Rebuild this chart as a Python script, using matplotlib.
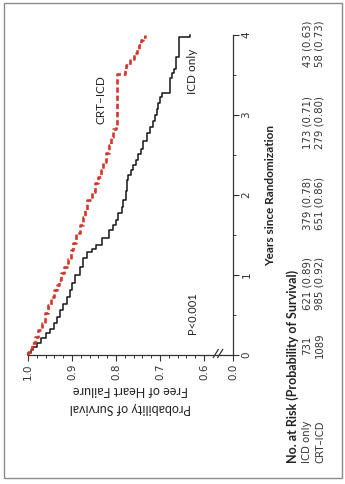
import numpy as np
import matplotlib
matplotlib.use("Agg")
import matplotlib.pyplot as plt
import matplotlib.transforms as mtrans
from matplotlib import font_manager

# Kaplan-Meier estimates (years, probability free of HF)
icd_t = [0.00, 0.03, 0.06, 0.10, 0.15, 0.21, 0.27, 0.33, 0.40, 0.47, 0.56, 0.64,
         0.73, 0.81, 0.90, 1.00, 1.10, 1.21, 1.29, 1.33, 1.375, 1.46, 1.56, 1.63,
         1.69, 1.77, 1.85, 1.94, 2.05, 2.12, 2.19, 2.25, 2.31, 2.38, 2.44, 2.51,
         2.58, 2.67, 2.77, 2.85, 2.92, 3.00, 3.08, 3.15, 3.23, 3.27, 3.46, 3.52,
         3.58, 3.73, 3.98]
icd_s = [1.000, 0.994, 0.988, 0.980, 0.970, 0.960, 0.950, 0.942, 0.935, 0.927,
         0.920, 0.912, 0.905, 0.900, 0.893, 0.882, 0.874, 0.867, 0.855, 0.845,
         0.832, 0.817, 0.806, 0.800, 0.795, 0.787, 0.783, 0.777, 0.775, 0.774,
         0.772, 0.766, 0.761, 0.755, 0.749, 0.744, 0.738, 0.730, 0.723, 0.716,
         0.711, 0.707, 0.704, 0.700, 0.696, 0.677, 0.673, 0.668, 0.664, 0.656,
         0.632]
crt_t = [0.00, 0.04, 0.08, 0.15, 0.23, 0.31, 0.40, 0.52, 0.62, 0.73, 0.81, 0.88,
         0.94, 1.02, 1.10, 1.20, 1.31, 1.40, 1.52, 1.62, 1.73, 1.81, 1.94, 2.04,
         2.15, 2.23, 2.31, 2.41, 2.52, 2.62, 2.73, 2.82, 2.88, 3.51, 3.56, 3.63,
         3.70, 3.77, 3.83, 3.88, 3.94, 3.98]
crt_s = [1.000, 0.995, 0.990, 0.984, 0.977, 0.969, 0.962, 0.954, 0.948, 0.942,
         0.935, 0.930, 0.925, 0.918, 0.908, 0.903, 0.897, 0.890, 0.882, 0.876,
         0.870, 0.866, 0.855, 0.848, 0.840, 0.835, 0.829, 0.823, 0.817, 0.811,
         0.806, 0.801, 0.798, 0.780, 0.777, 0.768, 0.760, 0.753, 0.748, 0.742,
         0.738, 0.734]
t_end = 4.0

years = [0, 1, 2, 3, 4]
icd_risk = ["731", "621 (0.89)", "379 (0.78)", "173 (0.71)", "43 (0.63)"]
crt_risk = ["1089", "985 (0.92)", "651 (0.86)", "279 (0.80)", "58 (0.73)"]
risk_shift = [0.12, -0.11, -0.10, -0.09, -0.11]

prob_ticks = [1.0, 0.9, 0.8, 0.7, 0.6]
prob_labels = ["1.0", "0.9", "0.8", "0.7", "0.6"]
ZERO_POS = 0.534   # where the "0.0" tick sits after the axis break

names = {f.name for f in font_manager.fontManager.ttflist}
NARROW = "Liberation Sans Narrow" if "Liberation Sans Narrow" in names else "DejaVu Sans"
LABEL = "Lato" if "Lato" in names else "DejaVu Sans"

W, H = 345, 484


def km_path(t, s, end):
    tt = np.append(t, end)
    return np.repeat(s, 2), np.repeat(tt, 2)[1:-1]


def px(x, y):
    return x / W, 1 - y / H


fig = plt.figure(figsize=(W / 100, H / 100), dpi=100)
ax = fig.add_axes([28 / W, 1 - 355 / H, 205 / W, 320 / H])

x, y = km_path(icd_t, icd_s, t_end)
ax.plot(x, y, color="#151515", lw=1.1, clip_on=False, zorder=3)
x, y = km_path(crt_t, crt_s, t_end)
ax.plot(x, y, color="#d8352a", lw=1.9, ls=(0, (2.0, 1.1)), clip_on=False, zorder=4)

ax.set_xlim(1.0, ZERO_POS)
ax.set_ylim(0, 4)
for side in ("top", "left"):
    ax.spines[side].set_visible(False)
for side in ("bottom", "right"):
    ax.spines[side].set_linewidth(0.9)
    ax.spines[side].set_color("#333333")

ax.set_xticks(prob_ticks + [ZERO_POS])
ax.set_xticklabels(prob_labels + ["0.0"], rotation=90, family=NARROW, fontsize=7.5,
                   color="#333333")
ax.set_xticks(np.arange(0.62, 1.0, 0.02), minor=True)
ax.yaxis.tick_right()
ax.set_yticks(years)
ax.set_yticklabels([str(v) for v in years], rotation=90, family=NARROW, fontsize=7.5,
                   color="#333333", va="center")
ax.set_yticks(np.arange(0.5, 4, 1.0), minor=True)
ax.tick_params(which="major", direction="out", length=4, width=0.8, color="#333333", pad=2)
ax.tick_params(which="minor", direction="out", length=2.5, width=0.7, color="#333333")

# axis break marks
for dx in (-2.2, 2.2):
    x0, y0 = px(218 + dx - 2.5, 357.5)
    x1, y1 = px(218 + dx + 2.5, 349.5)
    fig.add_artist(plt.Line2D([x0, x1], [y0, y1], color="#333333", lw=0.9))

ax.text(0.834, 3.19, "CRT\u2013ICD", rotation=90, ha="center", va="center",
        family=LABEL, fontsize=8.5, color="#222222")
ax.text(0.627, 3.54, "ICD only", rotation=90, ha="center", va="center",
        family=LABEL, fontsize=8.5, color="#222222")
ax.text(0.627, 0.525, "P<0.001", rotation=90, ha="center", va="center",
        family=LABEL, fontsize=8, color="#222222")

fig.text(*px(130.5, 399), "Probability of Survival\nFree of Heart Failure", rotation=180,
         ha="center", va="center", family=LABEL, fontsize=9, linespacing=1.7,
         color="#222222")

tr = mtrans.blended_transform_factory(fig.transFigure, ax.transData)
ax.text(271 / W, 2.0, "Years since Randomization", transform=tr, rotation=90,
        ha="center", va="center", family=LABEL, fontsize=8.5, weight="bold",
        color="#222222")

# number at risk table
y_start = (355 - 463) / 80
ax.text(293 / W, y_start, "No. at Risk (Probability of Survival)", transform=tr,
        rotation=90, ha="center", va="bottom", family=LABEL, fontsize=9,
        weight="bold", color="#222222")
ax.text(307 / W, y_start, "ICD only", transform=tr, rotation=90, ha="center",
        va="bottom", family=NARROW, fontsize=7.3, color="#333333")
ax.text(320 / W, y_start, "CRT\u2013ICD", transform=tr, rotation=90, ha="center",
        va="bottom", family=NARROW, fontsize=7.3, color="#333333")
for yr, sh, a, b in zip(years, risk_shift, icd_risk, crt_risk):
    ax.text(307 / W, yr + sh, a, transform=tr, rotation=90, ha="center", va="center",
            family=NARROW, fontsize=7.3, color="#333333")
    ax.text(320 / W, yr + sh, b, transform=tr, rotation=90, ha="center", va="center",
            family=NARROW, fontsize=7.3, color="#333333")

# outer frame
fig.add_artist(plt.Rectangle(px(4, 478), 338 / W, 475 / H, fill=False,
                             edgecolor="#8a8a8a", lw=1.0))

fig.savefig("out.png", dpi=100)
